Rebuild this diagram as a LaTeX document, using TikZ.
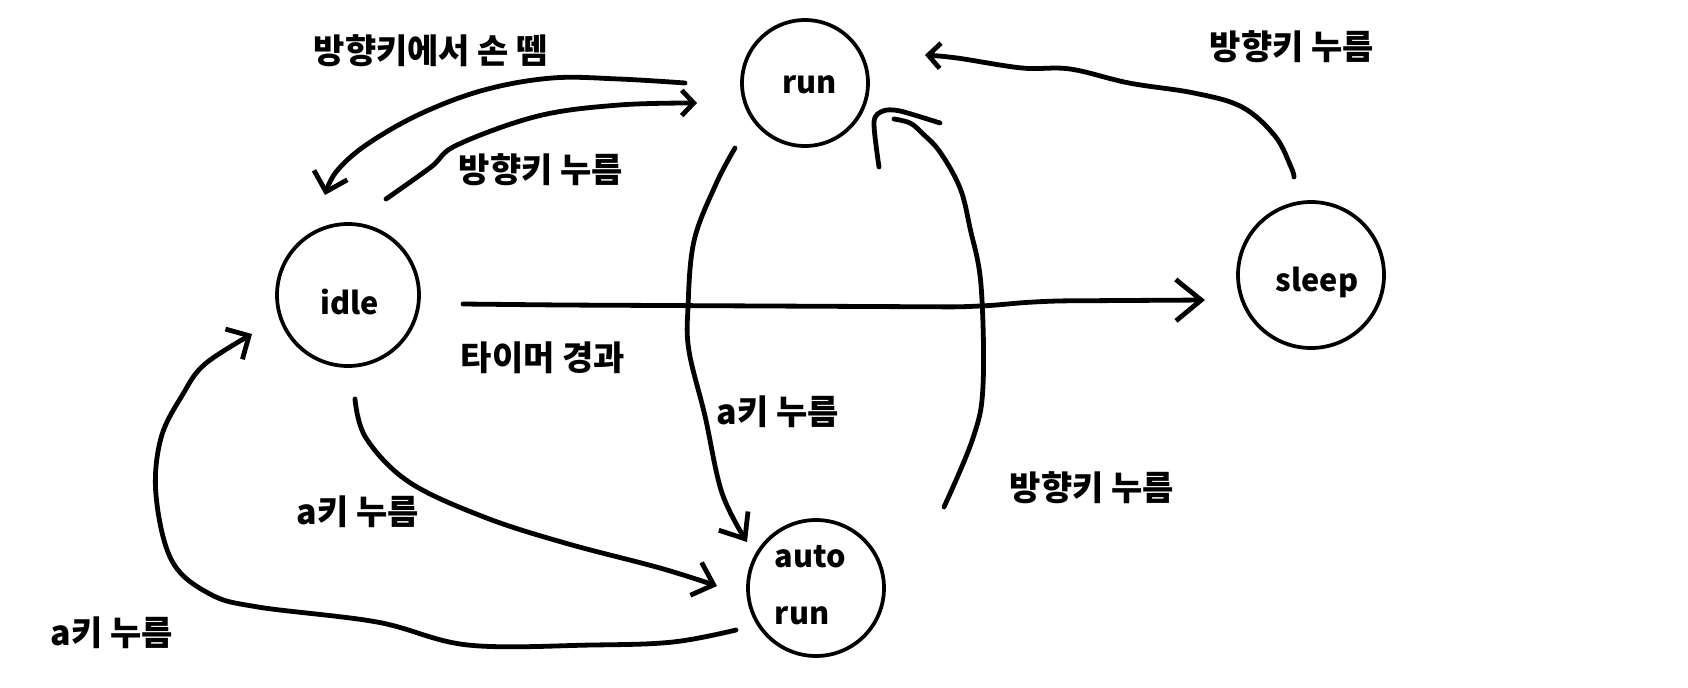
\documentclass[tikz,border=0pt]{standalone}
\usepackage{fontspec}
\setmainfont{Noto Sans CJK KR}
\usetikzlibrary{arrows.meta}
\newcommand{\labelfont}{\bfseries\fontsize{25.5pt}{30pt}\selectfont}
\newcommand{\statefont}{\bfseries\fontsize{23pt}{28pt}\selectfont}
% text placed at an offset (dx, baseline dy) from the node centre
\newcommand{\stext}[3]{\makebox[0pt]{\hspace*{#1}\hspace*{#1}\raisebox{#2}[0pt][0pt]{#3}}}
\tikzset{
  state/.style={draw, circle, line width=2.8pt, inner sep=0pt, font=\statefont},
  conn/.style={draw, line width=3.6pt, line cap=round, line join=round},
  barb/.style 2 args={-{Straight Barb[length=#1, width=#2]}},
  lbl/.style={font=\labelfont, inner sep=0pt},
}
\begin{document}
\begin{tikzpicture}[x=0.75pt, y=-0.75pt]
\useasboundingbox (0,0) rectangle (1688,687);
\fill[white] (0,0) rectangle (1688,687);

% states
\node[state, minimum size=106.5pt] (idle) at (348,295) {\stext{1.5pt}{-14.5pt}{idle}};
\node[state, minimum size=94.5pt] (run) at (805,83) {\stext{3.5pt}{-7.5pt}{run}};
\node[state, minimum size=109.5pt] (sleep) at (1311,275) {\stext{4.5pt}{-12pt}{sleep}};
\node[state, minimum size=102pt] (auto) at (816,588) {\stext{-4.5pt}{15.5pt}{auto}\stext{-10.5pt}{-27pt}{run}};

% labels
\node[lbl] (l1) at (431,51) {방향키에서 손 뗌};
\node[lbl] (l2) at (541,170) {방향키 누름};
\node[lbl] (l3) at (543,358) {타이머 경과};
\node[lbl] (l4) at (778,412) {a키 누름};
\node[lbl] (l5) at (358,512) {a키 누름};
\node[lbl] (l6) at (112,633) {a키 누름};
\node[lbl] (l7) at (1292,47) {방향키 누름};
\node[lbl] (l8) at (1092,488) {방향키 누름};

% connector ends
\coordinate (runW) at (685,83);
\coordinate (idleN) at (325,195);
\coordinate (idleNE) at (386,199);
\coordinate (runWW) at (697,103);
\coordinate (idleE) at (463,304);
\coordinate (sleepW) at (1205,300);
\coordinate (runS) at (735,148);
\coordinate (autoN) at (747,542);
\coordinate (idleS) at (355,399);
\coordinate (autoW) at (717,586);
\coordinate (autoSW) at (736,630);
\coordinate (idleSW) at (252,334);
\coordinate (sleepN) at (1294,177);
\coordinate (runE) at (925,55);
\coordinate (autoNE) at (944,507);
\coordinate (runSE) at (894,119);

% run -> idle
\draw[conn, barb={13pt}{26pt}] plot[smooth, tension=0.6] coordinates
  {(runW) (619,79) (552,78) (484,90) (420,114) (366,145) (336,172) (idleN)};
% idle -> run
\draw[conn, barb={9pt}{19pt}] plot[smooth, tension=0.6] coordinates
  {(idleNE) (431,167) (457,145) (538,116) (619,105) (runWW)};
% idle -> sleep
\draw[conn, barb={19pt}{31pt}, rounded corners=20pt] (idleE) -- (560,305) -- (975,307) -- (1040,301) -- (sleepW);
% run -> auto
\draw[conn, barb={16pt}{26pt}] plot[smooth, tension=0.6] coordinates
  {(runS) (716,184) (694,241) (688,307) (689,351) (705,416) (722,493) (autoN)};
% idle -> auto
\draw[conn, barb={14pt}{26pt}] plot[smooth, tension=0.6] coordinates
  {(idleS) (366,438) (409,482) (484,517) (565,543) (660,568) (autoW)};
% auto -> idle
\draw[conn, barb={13pt}{26pt}] plot[smooth, tension=0.6] coordinates
  {(autoSW) (673,642) (592,645) (468,645) (377,622) (258,607) (210,594) (172,561) (156,495) (161,438) (183,394) (205,364) (idleSW)};
% sleep -> run
\draw[conn, barb={9pt}{19pt}] plot[smooth, tension=0.6] coordinates
  {(sleepN) (1291,167) (1275,136) (1242,107) (1194,93) (1129,83) (1070,69) (1022,68) (957,58) (runE)};
% auto -> run
\draw[conn] plot[smooth, tension=0.6] coordinates
  {(autoNE) (973,438) (983,386) (981,285) (970,228) (960,188) (940,152) (922,133) (910,123) (runSE)};
\draw[conn] plot[smooth, tension=0.5] coordinates
  {(879,167) (874,122) (883,111) (900,111) (940,123)};
\end{tikzpicture}
\end{document}
